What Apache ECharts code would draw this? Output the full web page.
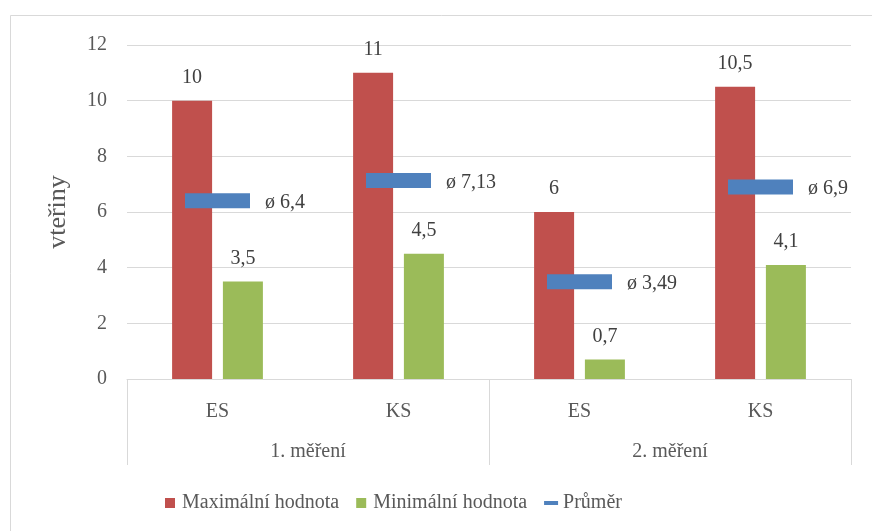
<!DOCTYPE html>
<html>
<head>
<meta charset="utf-8">
<script src="https://cdn.jsdelivr.net/npm/echarts@6/dist/echarts.min.js"></script>
<style>html,body{margin:0;padding:0;background:#fff}#c{width:872px;height:531px}</style>
</head>
<body>
<div id="c"></div>
<script>
const categories = ['ES', 'KS', 'ES', 'KS'];
const groups = ['1. měření', '2. měření'];
const maxValues = [10, 11, 6, 10.5];
const minValues = [3.5, 4.5, 0.7, 4.1];
const avgValues = [6.4, 7.13, 3.49, 6.9];
const yTicks = { min: 0, max: 12, interval: 2 };

const FONT = '"Liberation Serif", "Times New Roman", serif';
const fmt = v => String(v).replace('.', ',');
const chart = echarts.init(document.getElementById('c'), null, { renderer: 'canvas' });
chart.setOption({
  animation: false,
  backgroundColor: '#fff',
  graphic: [{
    type: 'rect', shape: { x: 10.5, y: 15.5, width: 900, height: 600 },
    style: { fill: 'none', stroke: '#d9d9d9', lineWidth: 1 }, z: -1
  }],
  grid: { left: 127, right: 21, top: 45, bottom: 152 },
  legend: {
    top: 488, left: 160, itemWidth: 14, itemHeight: 10, itemGap: 17,
    textStyle: { fontFamily: FONT, fontSize: 20, color: '#595959' },
    data: [
      { name: 'Maximální hodnota', icon: 'path://M0,0H10V10H0Z' },
      { name: 'Minimální hodnota', icon: 'path://M0,0H10V10H0Z' },
      { name: 'Průměr', icon: 'path://M0,0H14V4H0Z' }
    ]
  },
  xAxis: [{
    type: 'category', data: categories, position: 'bottom',
    axisLine: { show: true, lineStyle: { color: '#d9d9d9', width: 1 } },
    axisTick: { show: false },
    axisLabel: { margin: 23, fontFamily: FONT, fontSize: 20, color: '#595959' }
  }, {
    type: 'category', data: groups, position: 'bottom',
    axisLine: { show: false },
    axisTick: { show: true, length: 86, lineStyle: { color: '#d9d9d9', width: 1 } },
    axisLabel: { margin: 63, fontFamily: FONT, fontSize: 20, color: '#595959' }
  }],
  yAxis: {
    type: 'value', min: yTicks.min, max: yTicks.max, interval: yTicks.interval,
    name: 'vteřiny', nameLocation: 'middle', nameGap: 56, nameMoveOverlap: false,
    nameTextStyle: { fontFamily: FONT, fontSize: 26, color: '#595959' },
    axisLine: { show: false }, axisTick: { show: false },
    axisLabel: { margin: 20, fontFamily: FONT, fontSize: 20, color: '#595959' },
    splitLine: { lineStyle: { color: '#d9d9d9', width: 1 } }
  },
  series: [{
    name: 'Maximální hodnota', type: 'bar', data: maxValues,
    barWidth: 40, barGap: '27%',
    itemStyle: { color: '#C0504D' },
    label: { show: true, position: 'top', distance: 13, formatter: p => fmt(p.value),
      fontFamily: FONT, fontSize: 20, color: '#404040' }
  }, {
    name: 'Minimální hodnota', type: 'bar', data: minValues,
    barWidth: 40, barGap: '27%',
    itemStyle: { color: '#9BBB59' },
    label: { show: true, position: 'top', distance: 13, formatter: p => fmt(p.value),
      fontFamily: FONT, fontSize: 20, color: '#404040' }
  }, {
    name: 'Průměr', type: 'scatter', data: avgValues,
    symbol: 'rect', symbolSize: [65, 15],
    itemStyle: { color: '#4F81BD', opacity: 1 },
    label: { show: true, position: 'right', distance: 15, formatter: p => 'ø ' + fmt(p.value),
      fontFamily: FONT, fontSize: 20, color: '#404040', offset: [0, 2] },
    z: 5
  }]
});
</script>
</body>
</html>
